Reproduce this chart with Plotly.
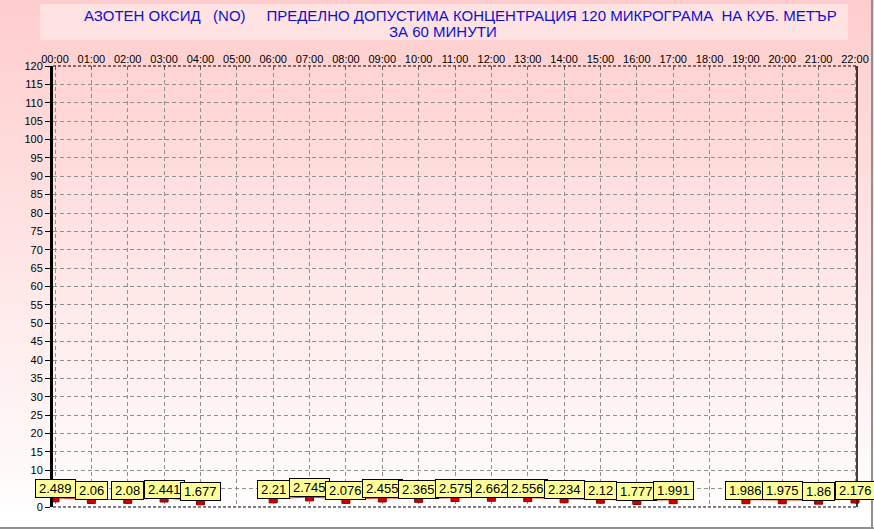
import plotly.graph_objects as go

hours = ["00:00","01:00","02:00","03:00","04:00","05:00","06:00","07:00","08:00","09:00","10:00","11:00",
         "12:00","13:00","14:00","15:00","16:00","17:00","18:00","19:00","20:00","21:00","22:00"]
values = [2.489, 2.06, 2.08, 2.441, 1.677, None, 2.21, 2.745, 2.076, 2.455, 2.365, 2.575,
          2.662, 2.556, 2.234, 2.12, 1.777, 1.991, None, 1.986, 1.975, 1.86, 2.176]
labels = ["2.489","2.06","2.08","2.441","1.677","","2.21","2.745","2.076","2.455","2.365","2.575",
          "2.662","2.556","2.234","2.12","1.777","1.991","","1.986","1.975","1.86","2.176"]
yticks = list(range(0, 121, 5))
title_line1 = "АЗОТЕН ОКСИД   (NO)     ПРЕДЕЛНО ДОПУСТИМА КОНЦЕНТРАЦИЯ 120 МИКРОГРАМА  НА КУБ. МЕТЪР"
title_line2 = "ЗА 60 МИНУТИ"

W, H = 874, 529
ML, MR, MT, MB = 53, 17, 66, 22
PW, PH = W - ML - MR, H - MT - MB

def px(x):
    return (x - ML) / PW

def py(y):
    return (H - MB - y) / PH

xs = list(range(len(hours)))
fig = go.Figure()

fig.add_trace(go.Scatter(
    x=xs, y=values, mode="lines+markers",
    line=dict(color="#E03030", width=1),
    marker=dict(symbol="square", size=8, color="#D00000", line=dict(color="#800000", width=1)),
    connectgaps=False, hoverinfo="skip", showlegend=False, cliponaxis=False))

shapes = []
# gradient background
N = 60
for i in range(N):
    t = i / (N - 1)
    g = int(round(205 + (255 - 205) * t))
    y0 = i * H / N
    y1 = (i + 1) * H / N + 0.5
    shapes.append(dict(type="rect", xref="paper", yref="paper", layer="below",
                       x0=px(0), x1=px(W), y0=py(y1), y1=py(y0),
                       fillcolor=f"rgb(255,{g},{g})", line=dict(width=0)))
# title box
shapes.append(dict(type="rect", xref="paper", yref="paper", layer="below",
                   x0=px(40), x1=px(848), y0=py(40), y1=py(4),
                   fillcolor="#FFE2E2", line=dict(width=0)))
# right border of plot
shapes.append(dict(type="line", xref="paper", yref="paper", x0=1, x1=1, y0=0, y1=1,
                   line=dict(color="black", width=1.5)))
# top & bottom dashed black
for yy in (0, 1):
    shapes.append(dict(type="line", xref="paper", yref="paper", x0=0, x1=1, y0=yy, y1=yy,
                       line=dict(color="black", width=1, dash="3px,2px")))
# window frame
shapes.append(dict(type="line", xref="paper", yref="paper", x0=px(872), x1=px(872), y0=py(529), y1=py(0),
                   line=dict(color="#909090", width=2)))
shapes.append(dict(type="line", xref="paper", yref="paper", x0=px(0), x1=px(874), y0=py(528), y1=py(528),
                   line=dict(color="#909090", width=2)))

def text_w(s, size):
    return sum((0.278 if c == "." else 0.556) * size for c in s)

annotations = []
for x, v, lab in zip(xs, values, labels):
    if v is None:
        continue
    annotations.append(dict(x=x, y=v, xref="x", yref="y", text=lab, showarrow=False,
                            yshift=9, width=text_w(lab, 13) + 4,
                            font=dict(family="Arial", size=13, color="black"),
                            bgcolor="#FFFF99", bordercolor="black", borderwidth=1, borderpad=1))
annotations.append(dict(xref="paper", yref="paper", x=px(460), y=py(15), xanchor="center", yanchor="middle",
                        text=title_line1, showarrow=False,
                        font=dict(family="Arial", size=15, color="#1010D0")))
annotations.append(dict(xref="paper", yref="paper", x=px(443), y=py(32), xanchor="center", yanchor="middle",
                        text=title_line2, showarrow=False,
                        font=dict(family="Arial", size=15, color="#1010D0")))

fig.update_layout(
    width=W, height=H, margin=dict(l=ML, r=MR, t=MT, b=MB),
    paper_bgcolor="white", plot_bgcolor="rgba(0,0,0,0)",
    shapes=shapes, annotations=annotations,
    xaxis=dict(side="top", range=[-2/36.36, 22 + 2/36.36], tickmode="array", tickvals=xs, ticktext=hours,
               showgrid=True, gridcolor="#909090", griddash="4px,3px", gridwidth=1,
               ticks="inside", ticklen=4, tickcolor="#606060", automargin=False,
               tickfont=dict(family="Arial", size=11, color="black"), zeroline=False, showline=False),
    yaxis=dict(range=[0, 120], tickmode="array", tickvals=yticks,
               showgrid=True, gridcolor="#909090", griddash="4px,3px", gridwidth=1,
               ticks="outside", ticklen=5, tickcolor="black", automargin=False,
               tickfont=dict(family="Arial", size=11, color="black"), zeroline=False,
               showline=True, linecolor="black", linewidth=3),
)

fig.write_html("out.html", config={"displayModeBar": False},
               post_script="document.body.style.margin='0';document.body.style.padding='0';"
                           "document.body.style.overflow='hidden';")
